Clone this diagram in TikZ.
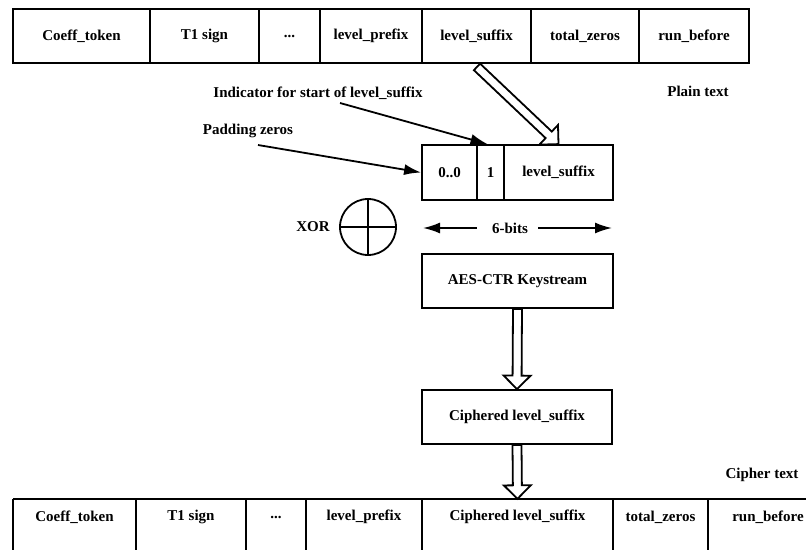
\documentclass[tikz,border=0pt]{standalone}
\usepackage{fontspec}
\setmainfont{Liberation Serif}
\usetikzlibrary{calc,arrows.meta}
\newcommand\hollowarrow[2]{%
  \coordinate (hh) at ($(#2)!13.5pt!(#1)$);
  \draw[hollow] ($(#1)!4.5pt!90:(#2)$) -- ($(hh)!4.5pt!90:(#2)$) -- ($(hh)!13.5pt!90:(#2)$) -- (#2)
    -- ($(hh)!13.5pt!-90:(#2)$) -- ($(hh)!4.5pt!-90:(#2)$) -- ($(#1)!4.5pt!-90:(#2)$) -- cycle;
}
\begin{document}
\begin{tikzpicture}[x=1pt,y=-1pt,
  every node/.style={font=\fontsize{15}{18}\selectfont\bfseries, inner sep=0pt},
  box/.style={draw, line width=1.8pt, minimum height=54pt},
  cellb/.style={minimum height=36pt},
  thinarrow/.style={line width=1.8pt, -{Latex[length=17pt,width=11pt]}},
  hollow/.style={draw, line width=1.8pt, fill=white, line join=miter},
  plainline/.style={line width=1.8pt}]
\useasboundingbox (0,0) rectangle (806,549);

% top row (plain text)
\node[box, minimum width=137pt] (t1) at (81.5,36) {Coeff\_token};
\node[box, minimum width=109pt] (t2) at (204.5,36) {T1 sign};
\node[box, minimum width=61pt]  (t3) at (289.5,36) {...};
\node[box, minimum width=102pt] (t4) at (371,36) {level\_prefix};
\node[box, minimum width=109pt] (t5) at (476.5,36) {level\_suffix};
\node[box, minimum width=108pt] (t6) at (585,36) {total\_zeros};
\node[box, minimum width=110pt] (t7) at (694,36) {run\_before};

\node (plain) at (698,91) {Plain text};

% labels with arrows
\node (ind) at (318,93) {Indicator for start of level\_suffix};
\node (pad) at (248,131) {Padding zeros};

% small box
\node[box, minimum height=55pt, minimum width=55pt]  (z1)  at (449.5,172.5) {0..0};
\node[box, minimum height=55pt, minimum width=27pt]  (one) at (490.5,172.5) {1};
\node[box, minimum height=55pt, minimum width=109pt] (ls)  at (558.5,172.5) {level\_suffix};

\coordinate (indA) at (340,103);
\coordinate (padA) at (258,145);
\draw[thinarrow] (indA) -- ($(one.north)+(-3,0)$);
\draw[thinarrow] (padA) -- (z1.west);

\coordinate (diagA) at ($(t5.south)+(0.5,3)$);
\hollowarrow{diagA}{ls.north}

% XOR
\node (xort) at (313,227) {XOR};
\node[circle, draw, line width=1.8pt, minimum size=56pt] (xor) at (368,227) {};
\draw[plainline] (xor.north) -- (xor.south);
\draw[plainline] (xor.west) -- (xor.east);

% 6-bits
\node (six) at (510,228) {6-bits};
\coordinate (bl) at (423,228);
\coordinate (br) at (612,228);
\draw[thinarrow] ($(six.west)+(-15,0)$) -- (bl);
\draw[thinarrow] ($(six.east)+(10,0)$) -- (br);

% AES and ciphered
\node[box, minimum width=191pt] (aes) at (517.5,281) {AES-CTR Keystream};
\node[box, minimum width=190pt] (ciph) at (517,417) {Ciphered level\_suffix};

% bottom row (cipher text)
\node[cellb, minimum width=123pt] (b1) at (74.5,517) {Coeff\_token};
\node[cellb, minimum width=110pt] (b2) at (191,517) {T1 sign};
\node[cellb, minimum width=60pt]  (b3) at (276,517) {...};
\node[cellb, minimum width=116pt] (b4) at (364,517) {level\_prefix};
\node[cellb, minimum width=191pt] (b5) at (517.5,517) {Ciphered level\_suffix};
\node[cellb, minimum width=95pt]  (b6) at (660.5,517) {total\_zeros};
\node[cellb, minimum width=120pt] (b7) at (768,517) {run\_before};
\draw[plainline] (b1.north west) -- (b7.north east);
\foreach \c in {b1,b2,b3,b4,b5,b6} {
  \draw[plainline] (\c.north west) -- ++(0,70);
}
\draw[plainline] (b6.north east) -- ++(0,70);

\node (cipher) at (762,475) {Cipher text};

\hollowarrow{aes.south}{ciph.north}
\hollowarrow{ciph.south}{b5.north}
\end{tikzpicture}
\end{document}
